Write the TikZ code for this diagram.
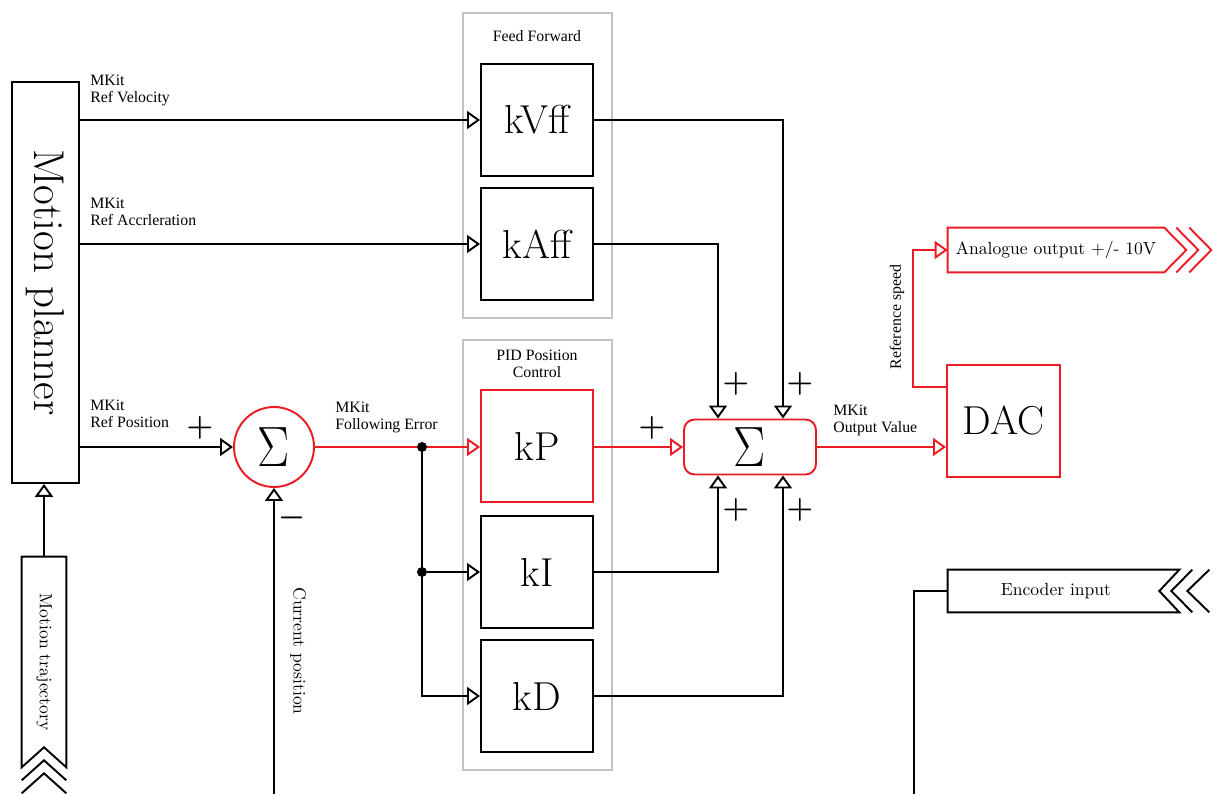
\documentclass[tikz,border=0pt]{standalone}
\usepackage{fontspec}
\newfontfamily\labelfont{Liberation Serif}
\usetikzlibrary{arrows.meta, positioning, calc}
\definecolor{SigRed}{RGB}{237, 28, 36}
\definecolor{GroupGray}{RGB}{196, 196, 196}
\newcommand{\bigsum}{\scalebox{1.1}[1.3]{$\Sigma$}}
\tikzset{
  blk/.style={rectangle, draw=black, line width=1.1pt, minimum width=2.24cm,
    minimum height=2.24cm, inner sep=0pt, font=\fontsize{23}{27}\selectfont},
  rblk/.style={blk, draw=SigRed},
  sumc/.style={circle, draw=SigRed, line width=1.1pt, minimum size=1.6cm,
    inner sep=0pt, font=\fontsize{24}{28}\selectfont},
  sumr/.style={rectangle, rounded corners=6pt, draw=SigRed, line width=1.1pt,
    minimum width=2.64cm, minimum height=1.1cm, inner sep=0pt,
    font=\fontsize{24}{28}\selectfont},
  grp/.style={draw=GroupGray, line width=1.1pt},
  lbl/.style={font=\labelfont\fontsize{9}{9.3}\selectfont, align=left,
    inner sep=0pt, anchor=north west},
  ttl/.style={font=\labelfont\fontsize{9}{9.3}\selectfont, align=center,
    inner sep=0pt},
  sgn/.style={font=\fontsize{17}{20}\selectfont\boldmath, inner sep=0pt},
  wire/.style={line width=1.1pt, color=black},
  rwire/.style={wire, color=SigRed},
  arr/.style={wire, -{Triangle[open, length=0.26cm, width=0.36cm]}},
  rarr/.style={arr, color=SigRed},
  banner/.style={line width=1.1pt, line join=miter},
  bantxt/.style={inner sep=0pt, font=\fontsize{10}{12}\selectfont},
  dot/.style={circle, fill=black, minimum size=0.2cm, inner sep=0pt},
}

\begin{document}
\begin{tikzpicture}[x=0.02cm, y=-0.02cm]
  \useasboundingbox (0,0) rectangle (1215,794);
  % group frames
  \draw[grp] (463,13) rectangle (612,318);
  \draw[grp] (463,340) rectangle (612,770);
  \node[ttl] (fftitle) at (537,36) {Feed Forward};
  \node[ttl] (pidtitle) at (537,364) {PID Position\\Control};

  % blocks
  \node[draw, line width=1.1pt, minimum width=1.34cm, minimum height=8.02cm,
        inner sep=0pt] (planner) at (45.5,282.5)
    {\rotatebox{-90}{\fontsize{24.5}{28}\selectfont Motion planner}};
  \node[blk] (kVff) at (537,120) {kVff};
  \node[blk] (kAff) at (537,244) {kAff};
  \node[rblk] (kP) at (537,446) {kP};
  \node[blk] (kI) at (537,572) {kI};
  \node[blk] (kD) at (537,696) {kD};
  \node[sumc] (sumA) at (274,447) {\bigsum};
  \node[sumr] (sumB) at (750,447) {\bigsum};
  \node[rblk, minimum width=2.26cm] (dac) at (1003.5,421) {DAC};
  \node[dot] (j1) at (422,447) {};
  \node[dot] (j2) at (422,572) {};

  % banners
  \node[inner sep=0pt, minimum width=0.88cm, minimum height=4.2cm] (traj) at (44,662)
    {\rotatebox{-90}{\fontsize{10}{12}\selectfont Motion trajectory}};
  \draw[banner] (traj.north west) -- (traj.north east) -- (traj.south east)
    -- ($(traj.south)+(0,-20)$) -- (traj.south west) -- cycle;
  \draw[banner] ($(traj.south west)+(0,13)$) -- ($(traj.south)+(0,-7)$)
    -- ($(traj.south east)+(0,13)$);
  \draw[banner] ($(traj.south west)+(0,26)$) -- ($(traj.south)+(0,6)$)
    -- ($(traj.south east)+(0,26)$);

  \node[bantxt, minimum width=4.32cm, minimum height=0.88cm] (aout) at (1056,250)
    {Analogue output +/- 10V};
  \draw[banner, SigRed] (aout.north west) -- (aout.north east) -- ($(aout.east)+(22,0)$)
    -- (aout.south east) -- (aout.south west) -- cycle;
  \draw[banner, SigRed] ($(aout.north east)+(12,0)$) -- ($(aout.east)+(34,0)$)
    -- ($(aout.south east)+(12,0)$);
  \draw[banner, SigRed] ($(aout.north east)+(25,0)$) -- ($(aout.east)+(47,0)$)
    -- ($(aout.south east)+(25,0)$);

  \node[bantxt, minimum width=4.32cm, minimum height=0.84cm] (enc) at (1056,591)
    {Encoder input};
  \draw[banner] (enc.north west) -- ($(enc.north east)+(15,0)$) -- ($(enc.east)+(-5,0)$)
    -- ($(enc.south east)+(15,0)$) -- (enc.south west) -- cycle;
  \draw[banner] ($(enc.north east)+(28,0)$) -- ($(enc.east)+(7,0)$)
    -- ($(enc.south east)+(28,0)$);
  \draw[banner] ($(enc.north east)+(45,0)$) -- ($(enc.east)+(23,0)$)
    -- ($(enc.south east)+(45,0)$);

  % free ends
  \coordinate (curend) at (274,800);
  \coordinate (encend) at (914,800);
  \coordinate (inL) at (718,447);
  \coordinate (inR) at (783,447);

  % connectors
  \draw[arr] (traj.north) -- (traj.north |- planner.south);
  \draw[arr] (planner.east |- kVff.west) -- (kVff.west);
  \draw[arr] (planner.east |- kAff.west) -- (kAff.west);
  \draw[arr] (planner.east |- sumA.west) -- (sumA.west);
  \draw[arr] (curend) -- (sumA.south);
  \draw[rwire] (sumA.east) -- (j1);
  \draw[rarr] (j1) -- (kP.west |- j1);
  \draw[arr] (j1) |- (kD.west);
  \draw[arr] (j2) -- (kI.west);
  \draw[rarr] (kP.east |- sumB.west) -- (sumB.west);
  \draw[arr] (kAff.east) -| (inL |- sumB.north);
  \draw[arr] (kVff.east) -| (inR |- sumB.north);
  \draw[arr] (kI.east) -| (inL |- sumB.south);
  \draw[arr] (kD.east) -| (inR |- sumB.south);
  \draw[rarr] (sumB.east) -- (sumB.east -| dac.west);
  \draw[rarr] ($(dac.north west)+(0,23)$) -- ++(-33,0) |- (aout.west);
  \draw[wire] (enc.west) -| (encend);

  % labels
  \node[lbl] (lvel) at (90,75) {MKit\\Ref Velocity};
  \node[lbl] (lacc) at (90,198) {MKit\\Ref Accrleration};
  \node[lbl] (lpos) at (90,400) {MKit\\Ref Position};
  \node[lbl] (lerr) at (335,402) {MKit\\Following Error};
  \node[lbl] (lout) at (833,405) {MKit\\Output Value};
  \node[ttl, rotate=90] (lref) at (897,317) {Reference speed};
  \node[rotate=-90, inner sep=0pt, font=\fontsize{10}{12}\selectfont] (lcur)
    at (298,651) {Current position};

  % signs
  \node[sgn] (pA) at (200,428) {$+$};
  \node[sgn] (mA) at (292,518) {$-$};
  \node[sgn] (pP) at (652,428) {$+$};
  \node[sgn] (pAff) at (736,384) {$+$};
  \node[sgn] (pVff) at (800,384) {$+$};
  \node[sgn] (pI) at (736,510) {$+$};
  \node[sgn] (pD) at (800,510) {$+$};
\end{tikzpicture}
\end{document}
